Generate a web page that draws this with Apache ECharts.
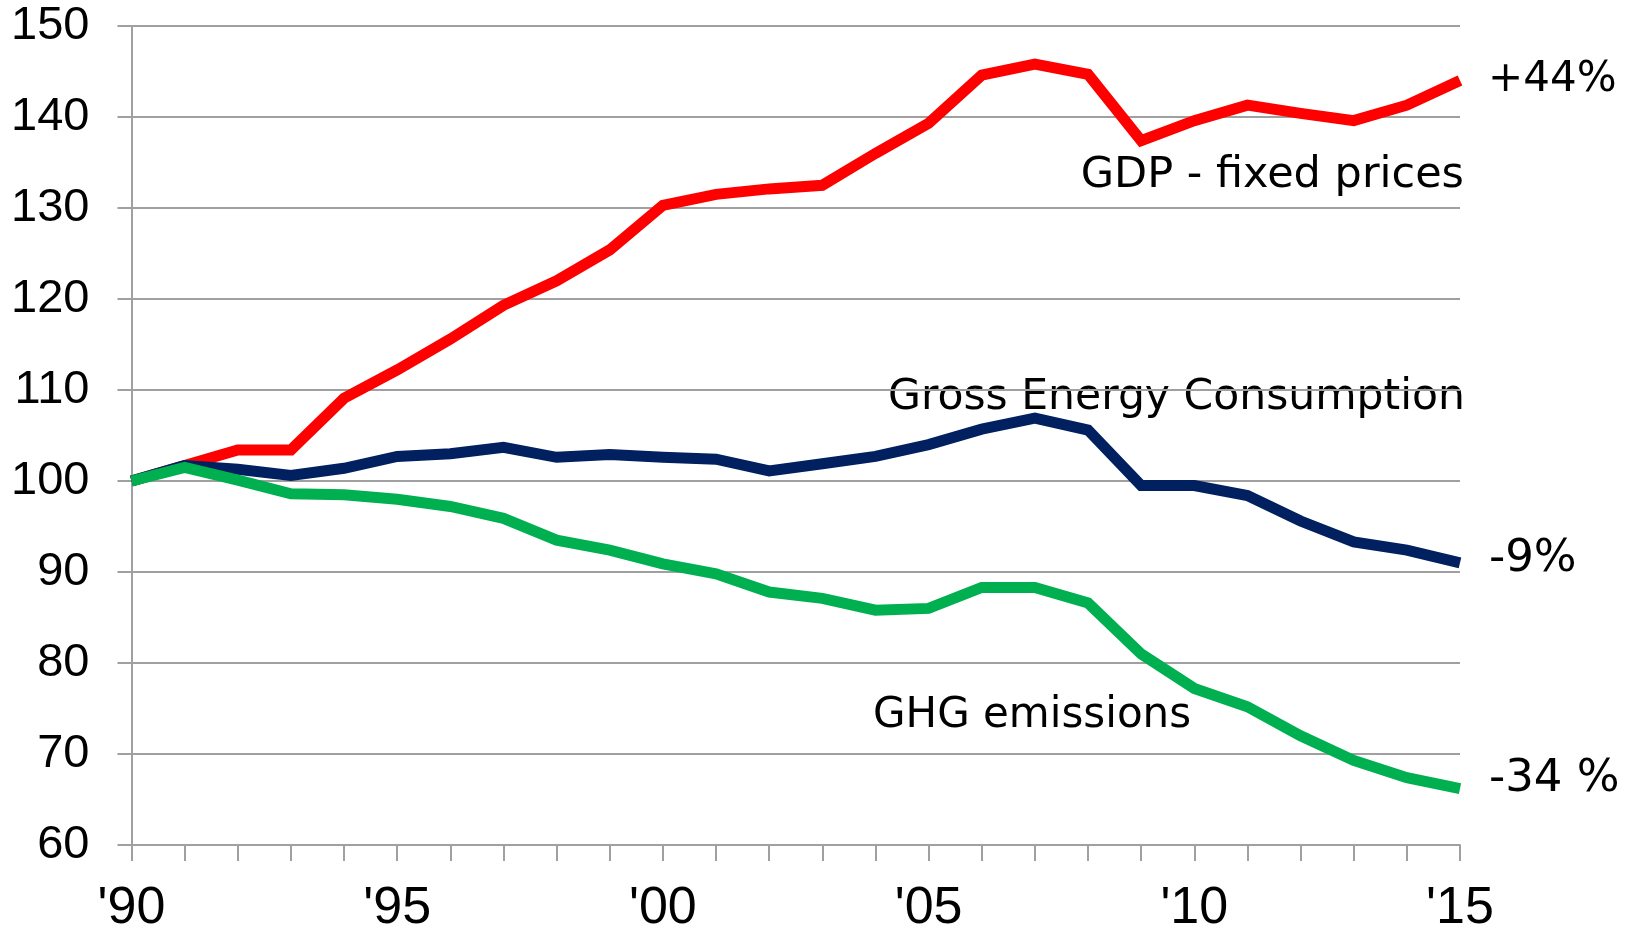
<!DOCTYPE html>
<html>
<head>
<meta charset="utf-8">
<script src="https://cdn.jsdelivr.net/npm/echarts@6/dist/echarts.min.js"></script>
<style>
html, body { margin: 0; padding: 0; background: #fff; }
#main { width: 1637px; height: 931px; }
</style>
</head>
<body>
<div id="main"></div>
<script>
var years = ["'90", "'91", "'92", "'93", "'94", "'95", "'96", "'97", "'98", "'99",
	"'00", "'01", "'02", "'03", "'04", "'05", "'06", "'07", "'08", "'09",
	"'10", "'11", "'12", "'13", "'14", "'15"];
var gdp = [100, 101.7, 103.4, 103.4, 109.1, 112.2, 115.6, 119.3, 122, 125.4,
	130.3, 131.5, 132.1, 132.5, 136, 139.3, 144.6, 145.8, 144.7, 137.4,
	139.6, 141.3, 140.4, 139.6, 141.3, 144];
var energy = [100, 101.7, 101.3, 100.6, 101.4, 102.7, 103, 103.7, 102.6, 102.9,
	102.6, 102.4, 101.1, 101.9, 102.7, 104, 105.7, 106.9, 105.6, 99.5,
	99.5, 98.4, 95.6, 93.3, 92.4, 91];
var ghg = [100, 101.5, 100.1, 98.6, 98.5, 98, 97.2, 95.9, 93.5, 92.4,
	90.9, 89.8, 87.8, 87.1, 85.8, 86, 88.3, 88.3, 86.6, 81,
	77.2, 75.2, 72, 69.3, 67.4, 66.2];

var annoFont = '"DejaVu Sans", Verdana, sans-serif';
var gray = '#a0a0a0';

var chart = echarts.init(document.getElementById('main'));

var text = function(str, x, y, align, size) {
	return {
		type: 'text',
		x: x,
		y: y,
		style: {
			text: str,
			fill: '#000',
			font: size + 'px ' + annoFont,
			textAlign: align,
			textVerticalAlign: 'middle'
		}
	};
};

var option = {
	animation: false,
	backgroundColor: '#fff',
	grid: {
		left: 131.5,
		right: 177,
		top: 26,
		bottom: 86,
		containLabel: false,
		outerBoundsMode: 'none'
	},
	xAxis: {
		type: 'category',
		boundaryGap: false,
		data: years,
		axisLine: { lineStyle: { color: gray, width: 2 } },
		axisTick: { show: true, interval: 0, length: 16, lineStyle: { color: gray, width: 2 } },
		axisLabel: {
			interval: 4,
			margin: 38,
			fontSize: 52,
			fontFamily: '"Liberation Sans", Arial, sans-serif',
			color: '#000'
		},
		splitLine: { show: false }
	},
	yAxis: {
		type: 'value',
		min: 60,
		max: 150,
		interval: 10,
		axisLine: { show: true, lineStyle: { color: gray, width: 2 } },
		axisTick: { show: true, length: 14, lineStyle: { color: gray, width: 2 } },
		axisLabel: {
			margin: 42,
			fontSize: 47,
			fontFamily: '"Liberation Sans", Arial, sans-serif',
			color: '#000'
		},
		splitLine: { show: true, lineStyle: { color: gray, width: 2 } }
	},
	series: [{
		name: 'GDP - fixed prices',
		type: 'line',
		data: gdp,
		symbol: 'none',
		lineStyle: { color: '#ff0000', width: 11, join: 'miter' }
	}, {
		name: 'Gross Energy Consumption',
		type: 'line',
		data: energy,
		symbol: 'none',
		lineStyle: { color: '#002060', width: 11, join: 'miter' }
	}, {
		name: 'GHG emissions',
		type: 'line',
		data: ghg,
		symbol: 'none',
		lineStyle: { color: '#00b050', width: 11, join: 'miter' }
	}],
	graphic: [
		text('GDP - fixed prices', 1464, 176, 'right', 43),
		text('Gross Energy Consumption', 1465, 398, 'right', 42.5),
		text('GHG emissions', 873, 716, 'left', 42),
		text('+44%', 1488, 80, 'left', 42),
		text('-9%', 1489, 559, 'left', 45),
		text('-34 %', 1489, 779, 'left', 45)
	]
};
chart.setOption(option);
</script>
</body>
</html>
